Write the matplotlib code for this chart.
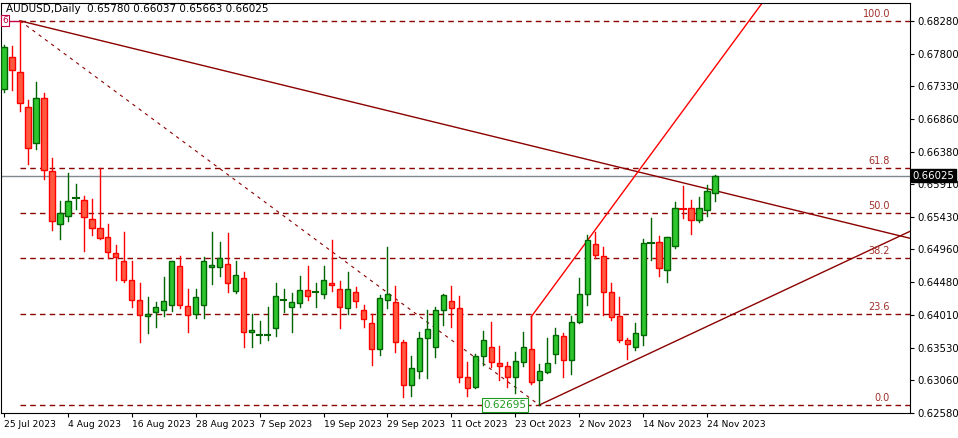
import matplotlib
matplotlib.use("Agg")
import matplotlib.pyplot as plt
import pandas as pd

opens = [.67284,.67760,.67529,.67024,.66504,.67154,.66100,.65321,.65437,.65705,
 .65682,.65393,.65263,.65134,.64903,.64787,.64513,.64224,.63994,.64051,
 .64080,.64152,.64715,.64138,.64022,.64152,.64701,.64701,.64744,.64354,
 .64542,.63763,.63712,.63712,.63820,.64217,.64123,.64181,.64369,.64335,
 .64311,.64470,.64383,.64109,.64340,.64080,.63893,.63503,.64224,.64196,
 .63604,.62983,.63185,.63662,.63532,.64080,.64210,.64109,.63099,.62955,
 .63402,.63532,.63301,.63258,.63099,.63315,.63503,.63056,.63171,.63431,
 .63705,.63344,.63907,.64311,.65033,.64859,.64340,.63994,.63633,.63532,
 .63719,.65040,.65061,.64657,.65004,.65545,.65552,.65379,.65523,.65780]
highs = [.67933,.67919,.68280,.67125,.67385,.67226,.66288,.65667,.66071,.65913,
 .65740,.65696,.66144,.65321,.65018,.65206,.64787,.64470,.64268,.64196,
 .64556,.64787,.64859,.64383,.64383,.64845,.65206,.65061,.65191,.64787,
 .64628,.64022,.63921,.64123,.64470,.64383,.64325,.64571,.64715,.64470,
 .64715,.65090,.64499,.64628,.64412,.64152,.64022,.64297,.64989,.64426,
 .63647,.63402,.63763,.64080,.64123,.64311,.64426,.64282,.63315,.63431,
 .63777,.63907,.63546,.63315,.63460,.63763,.63994,.63286,.63662,.63820,
 .63748,.63994,.64542,.65162,.65206,.64989,.64470,.64268,.63676,.63893,
 .65105,.65408,.65148,.65134,.65639,.65884,.65682,.65725,.65898,.66037]
lows = [.67240,.67269,.66966,.66201,.66418,.65985,.65235,.65105,.65364,.65538,
 .64931,.65162,.65110,.64830,.64513,.64484,.64123,.63604,.63748,.63835,
 .63994,.64066,.64109,.63763,.63965,.63965,.64455,.64571,.64340,.64325,
 .63532,.63532,.63590,.63633,.63705,.64051,.63763,.64123,.64224,.64123,
 .64253,.64354,.63820,.64022,.64123,.63835,.63272,.63416,.64109,.63460,
 .62810,.62825,.63084,.63084,.63387,.63864,.63835,.63027,.62825,.62940,
 .63272,.63243,.63056,.62955,.62868,.63258,.63012,.62695,.63164,.63301,
 .63099,.63142,.63893,.64152,.64830,.64008,.63936,.63604,.63359,.63488,
 .63561,.64802,.64571,.64484,.64975,.65408,.65177,.65350,.65437,.65663]
closes = [.67904,.67558,.67082,.66432,.67154,.66115,.65364,.65480,.65667,.65715,
 .65422,.65263,.65119,.64917,.64845,.64513,.64224,.64008,.64022,.64123,
 .64210,.64787,.64152,.64008,.64268,.64787,.64729,.64830,.64470,.64585,
 .63763,.63792,.63719,.63720,.64282,.64224,.64196,.64369,.64282,.64345,
 .64513,.64441,.64123,.64383,.64210,.63950,.63503,.64253,.64311,.63604,
 .62983,.63229,.63676,.63806,.64080,.64297,.64109,.63099,.62940,.63402,
 .63633,.63315,.63258,.63099,.63330,.63532,.63027,.63185,.63301,.63719,
 .63344,.63907,.64311,.65090,.64874,.64340,.63979,.63633,.63575,.63748,
 .65047,.65050,.64686,.65134,.65552,.65535,.65379,.65552,.65812,.66025]
dates = pd.bdate_range("2023-07-25", periods=len(opens))
fib_levels = [0.0, 23.6, 38.2, 50.0, 61.8, 100.0]
fib_low, fib_high = 0.62695, 0.68280
yticks = [0.68280,0.67800,0.67330,0.66860,0.66380,0.65910,0.65430,0.64960,
          0.64480,0.64010,0.63530,0.63060,0.62580]
last_price = 0.66025

fig = plt.figure(figsize=(9.58, 4.38), dpi=100)
ax = fig.add_axes([1/958, 25/438, 909/958, 410/438])
xmin, xmax = -0.375, 113.4
ax.set_xlim(xmin, xmax)
ax.set_ylim(0.62579, 0.68539)

GF, GE = "#2ec62e", "#006400"
RF, RE = "#ff5a40", "#ff0000"
for i, (o, h, l, c) in enumerate(zip(opens, highs, lows, closes)):
    up = c >= o
    ec = GE if up else RE
    fc = GF if up else RF
    ax.plot([i, i], [l, h], color=ec, lw=1, zorder=3)
    lo, hi = min(o, c), max(o, c)
    if hi - lo < 0.00012:
        ax.plot([i-0.35, i+0.35], [(o+c)/2]*2, color=ec, lw=1.5, zorder=4)
    else:
        ax.add_patch(plt.Rectangle((i-0.33, lo), 0.66, hi-lo, facecolor=fc,
                                   edgecolor=ec, lw=1, zorder=4))

DR = "#8b0000"
rng = fib_high - fib_low
for lv in fib_levels:
    p = fib_low + rng*lv/100
    ax.plot([2, xmax], [p, p], color=DR, lw=1, ls=(0, (4, 3)), zorder=2)
    ax.text(113.4-2.5, p + 0.0003, f"{lv:.1f}", color="#a0302a", fontsize=7,
            ha="right", va="bottom", zorder=5)

# trend lines
ax.plot([2, 113.4], [0.68280, 0.65119], color=DR, lw=1, zorder=2)
ax.plot([2, 67], [0.68280, 0.62695], color=DR, lw=0.8, ls=(0, (3, 4)), zorder=2)
ax.plot([67, 113.4], [0.62695, 0.65220], color=DR, lw=1, zorder=2)
ax.plot([66, 66], [0.63979, 0.63000], color=RE, lw=1, zorder=2)
ax.plot([66, 94.9], [0.63979, 0.68539], color=RE, lw=1, zorder=2)
ax.plot([-1, 2], [0.68280, 0.68280], color="#c00040", lw=1, zorder=2)

ax.axhline(last_price, color="#808890", lw=1, zorder=1)

ax.text(0.12, 0.68280, "6", color="#c00040", fontsize=6.5, ha="center", va="center",
        bbox=dict(boxstyle="square,pad=0.1", fc="white", ec="#c00040", lw=0.8), zorder=6)
ax.text(65.4, 0.62695, "0.62695", color="#1f9b1f", fontsize=7.5, ha="right",
        va="center", bbox=dict(boxstyle="square,pad=0.15", fc="white", ec="#1f9b1f", lw=0.8), zorder=6)
ax.text(0.3, 0.68539-0.0002, "AUDUSD,Daily  0.65780 0.66037 0.65663 0.66025",
        fontsize=7.5, ha="left", va="top", zorder=6)

ax.yaxis.tick_right()
ax.set_yticks(yticks)
ax.set_yticklabels([f"{t:.5f}" for t in yticks], fontsize=7.3)
ax.tick_params(axis="y", length=3, pad=2)
xt = list(range(0, len(dates), 8))
ax.set_xticks(xt)
ax.set_xticklabels([f"{dates[i].day} {dates[i].strftime('%b %Y')}" for i in xt],
                   fontsize=6.6, ha="left")
ax.tick_params(axis="x", length=3, pad=2)
ax.text(1.003, (last_price-0.62579)/(0.68539-0.62579), f"{last_price:.5f}",
        transform=ax.transAxes, fontsize=7.3, color="white", va="center", ha="left",
        bbox=dict(boxstyle="square,pad=0.15", fc="black", ec="black"), zorder=7)
for s in ax.spines.values():
    s.set_color("black")
    s.set_linewidth(0.8)
fig.savefig("out.png", dpi=100)
